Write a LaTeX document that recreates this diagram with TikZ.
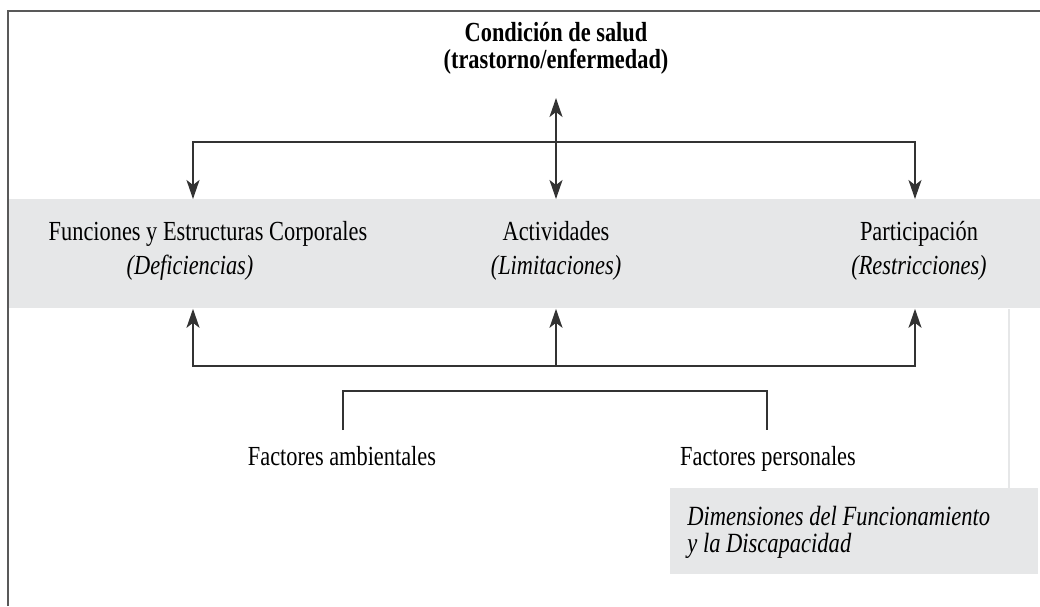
\documentclass[tikz,border=0pt]{standalone}
\usepackage{fontspec}
\setmainfont{Liberation Serif}[FakeStretch=0.81]
\usetikzlibrary{arrows.meta}
\definecolor{bandgray}{HTML}{E6E7E8}
\definecolor{linegray}{HTML}{333333}

\begin{document}
\begin{tikzpicture}[x=0.5pt,y=-0.5pt]
    % Setup the styles for labels, bands and links
        \tikzset{label style/.style={font=\fontsize{13.8}{16}\selectfont,
                                     inner sep=0pt,
                                     anchor=base,
                                     text=black},
                 band style/.style={fill=bandgray,
                                    draw=none,
                                    inner sep=0pt,
                                    anchor=north west},
                 link style/.style={line width=1pt,
                                    draw=linegray,
                                    >={Stealth[length=9.5pt,width=6.5pt,inset=2.5pt]}}}
        \useasboundingbox (0,0) rectangle (1040,606);
        % Draw the frame and the grey bands
        \draw[line width=0.7pt, draw=black!65] (8,606) -- (8,11) -- (1040,11);
        \node[band style, minimum width=515.5pt, minimum height=54.5pt] at (9,199)   (band)   {};
        \node[band style, minimum width=184pt, minimum height=43pt]     at (670,488) (dimbox) {};
        \coordinate (edge) at (1009,0);
        \draw[line width=1pt, draw=bandgray] (band.south -| edge) -- (dimbox.north -| edge);
        % Draw the labels
        \node[label style] at (556,41)  (condicion)     {\bfseries Condición de salud};
        \node[label style] at (556,68)  (trastorno)     {\bfseries (trastorno/enfermedad)};
        \node[label style] at (208,240) (funciones)     {Funciones y Estructuras Corporales};
        \node[label style] at (190,274) (deficiencias)  {\itshape (Deficiencias)};
        \node[label style] at (556,240) (actividades)   {Actividades};
        \node[label style] at (556,274) (limitaciones)  {\itshape (Limitaciones)};
        \node[label style] at (919,240) (participacion) {Participación};
        \node[label style] at (919,274) (restricciones) {\itshape (Restricciones)};
        \node[label style] at (342,465) (ambientales)   {Factores ambientales};
        \node[label style] at (768,465) (personales)    {Factores personales};
        \node[label style, anchor=base west, font=\fontsize{13.9}{16}\selectfont\itshape]
            at (687,525) (dimensiones)  {Dimensiones del Funcionamiento};
        \node[label style, anchor=base west, font=\fontsize{13.9}{16}\selectfont\itshape]
            at (687,552) (discapacidad) {y la Discapacidad};
        % Corners of the links
        \coordinate (top)      at (556,98);
        \coordinate (topleft)  at (193,142);
        \coordinate (topright) at (915,142);
        \coordinate (botleft)  at (193,366);
        \coordinate (botmid)   at (556,366);
        \coordinate (botright) at (915,366);
        \coordinate (envleft)  at (343,430);
        \coordinate (envmid)   at (556,391);
        \coordinate (envright) at (767,430);
        % Connect the labels with arrows
        \draw[link style, <->] (top) -- (band.north -| top);
        \draw[link style, <->] (band.north -| topleft) -- (topleft) -- (topright) -- (band.north -| topright);
        \draw[link style, <->] (band.south -| botleft) -- (botleft) -- (botright) -- (band.south -| botright);
        \draw[link style, ->]  (botmid) -- (band.south -| botmid);
        \draw[link style]      (envleft) |- (envmid) -| (envright);
\end{tikzpicture}
\end{document}
